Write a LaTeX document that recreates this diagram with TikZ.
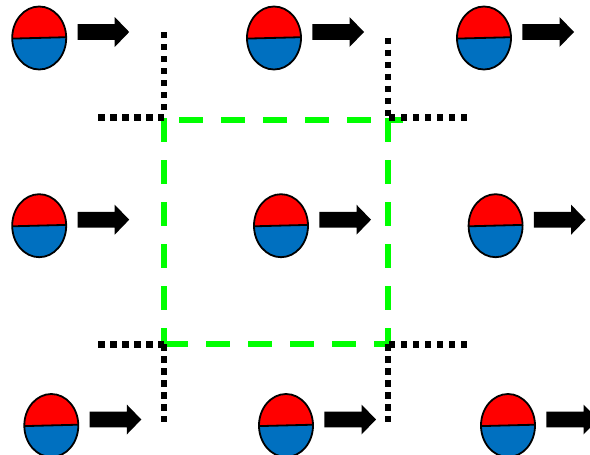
\documentclass[tikz,border=0pt]{standalone}
\definecolor{spinred}{HTML}{FF0000}
\definecolor{spinblue}{HTML}{0070C0}
\definecolor{boxgreen}{HTML}{00FF00}
\tikzset{
  greendash/.style={draw=boxgreen,line width=6.8pt,dash pattern=on 24pt off 18pt},
  blackdots/.style={draw=black,line width=6.6pt,dash pattern=on 6.4pt off 5.6pt},
  spinoutline/.style={draw=black,line width=1.8pt},
  spinarrow/.style={fill=black}
}
\newcommand{\spinsite}[2]{%
  \begin{scope}[shift={(#1,#2)}]
    \begin{scope}
      \clip (0,0) ellipse [x radius=27,y radius=31.5];
      \fill[spinred] (-30,-35) rectangle (30,1);
      \fill[spinblue] (-30,0.6) -- (30,-0.9) -- (30,35) -- (-30,35) -- cycle;
    \end{scope}
    \draw[spinoutline] (0,0) ellipse [x radius=27,y radius=31.5];
    \draw[spinoutline] (-27,0.6) -- (27,-0.8);
    \fill[spinarrow] (38.3,-13.8) -- (75.5,-13.8) -- (75.5,-21) -- (90,-6) -- (75.5,9) -- (75.5,1.8) -- (38.3,1.8) -- cycle;
  \end{scope}}
\begin{document}
\begin{tikzpicture}[x=1pt,y=-1pt]
  \useasboundingbox (0,0) rectangle (590,455);
  \clip (0,0) rectangle (590,455);
  % green dashed square
  \draw[greendash] (164,118) -- (164,347);
  \draw[greendash] (388,118) -- (388,347);
  \draw[greendash] (179,120) -- (402.7,120);
  \draw[greendash] (164,344) -- (391,344);
  % dotted lattice lines
  \coordinate (tlv) at (164,32);   \coordinate (tlv2) at (164,110);
  \coordinate (tlh) at (98.3,117.7); \coordinate (tlh2) at (164.3,117.7);
  \coordinate (trv) at (388,37.7); \coordinate (trv2) at (388,116);
  \coordinate (trh) at (389,117.7); \coordinate (trh2) at (467,117.7);
  \coordinate (blh) at (98.3,344.3); \coordinate (blh2) at (164.3,344.3);
  \coordinate (blv) at (164,344.3); \coordinate (blv2) at (164,422.3);
  \coordinate (brh) at (389,344.3); \coordinate (brh2) at (467,344.3);
  \coordinate (brv) at (388,344.3); \coordinate (brv2) at (388,422.3);
  \foreach \a/\b in {tlv/tlv2,tlh/tlh2,trv/trv2,trh/trh2,blh/blh2,blv/blv2,brh/brh2,brv/brv2}
    \draw[blackdots] (\a) -- (\b);
  % spins
  \foreach \x/\y in {39.2/38,274/38,484/38,39.2/225.7,281/225.7,495.6/225.7,51.3/425.5,286/425.5,508/425.5}
    \spinsite{\x}{\y};
\end{tikzpicture}
\end{document}
